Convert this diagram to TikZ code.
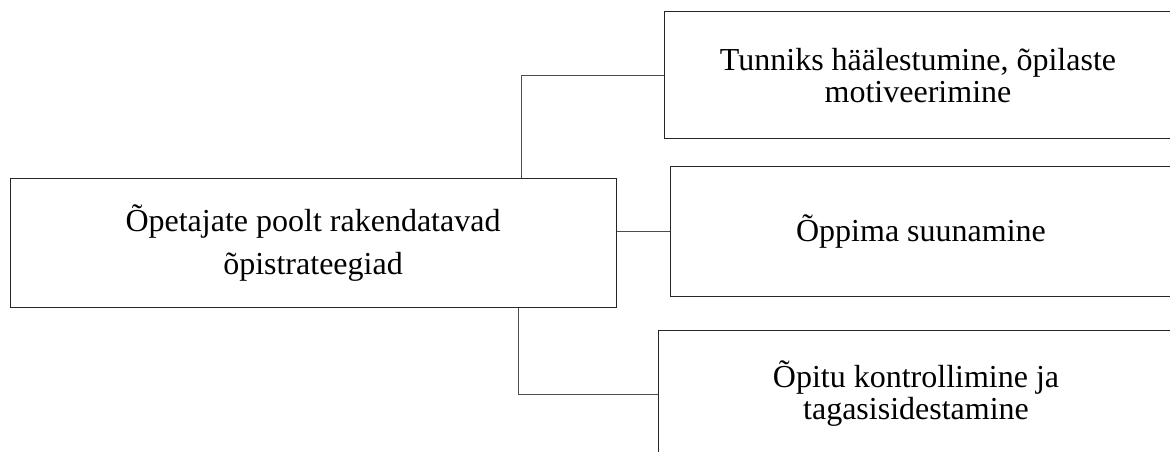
\documentclass[tikz,border=0pt]{standalone}
\usepackage{fontspec}
\setmainfont{Liberation Serif}
\begin{document}
\begin{tikzpicture}[x=0.75pt,y=-0.75pt,
  box/.style={draw=black!85, line width=0.75pt, rectangle, align=center, inner sep=0pt, font=\fontsize{24}{24}\selectfont},
  link/.style={draw=black!70, line width=0.75pt}]
\useasboundingbox (0,0) rectangle (1170,452);
\clip (0,0) rectangle (1170,452);

\node [box, minimum width=454.5pt, minimum height=96pt, font=\fontsize{24}{32.25}\selectfont] (strat) at (313,243) {Õpetajate poolt rakendatavad\\õpistrateegiad};

\node [box, minimum width=381pt, minimum height=95.25pt] (tunniks) at (918,75.5) {Tunniks häälestumine, õpilaste\\motiveerimine};
\node [box, minimum width=376.5pt, minimum height=96.75pt] (oppima) at (921,231.5) {Õppima suunamine};
\node [box, minimum width=387pt, minimum height=96pt] (opitu) at (916,394) {Õpitu kontrollimine ja\\tagasisidestamine};

\coordinate (jtop) at (521,0);
\coordinate (jbot) at (518,0);

\draw [link] (tunniks.west) -| (strat.north -| jtop);
\draw [link] (oppima.west) -- (oppima.west -| strat.east);
\draw [link] (strat.south -| jbot) |- (opitu.west);

\end{tikzpicture}
\end{document}
